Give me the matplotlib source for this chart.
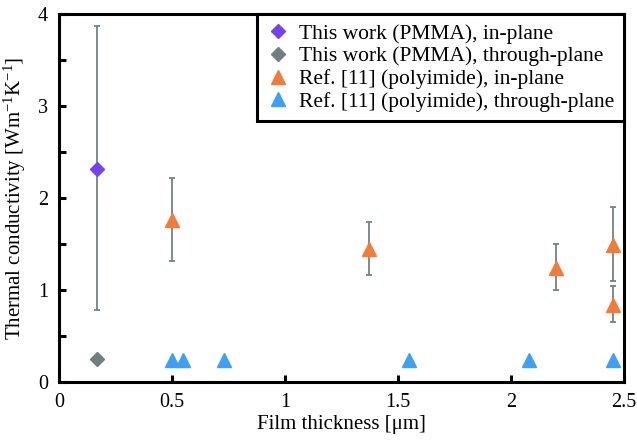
import matplotlib
matplotlib.use("Agg")
import matplotlib.pyplot as plt

plt.rcParams["font.family"] = ["Liberation Serif", "DejaVu Serif"]
plt.rcParams["mathtext.fontset"] = "custom"
plt.rcParams["mathtext.rm"] = "Liberation Serif"
plt.rcParams["mathtext.it"] = "Liberation Serif:italic"

# This work (PMMA)
pmma_x = [0.17]
pmma_in = [2.32]
pmma_in_lo = [0.78]
pmma_in_hi = [3.87]
pmma_through = [0.25]

# Ref. [11] (polyimide)
pi_in_x = [0.50, 1.37, 2.20, 2.45, 2.45]
pi_in = [1.76, 1.45, 1.24, 1.49, 0.84]
pi_in_lo = [1.32, 1.16, 1.00, 1.10, 0.65]
pi_in_hi = [2.22, 1.74, 1.50, 1.90, 1.04]
pi_through_x = [0.50, 0.55, 0.73, 1.55, 2.08, 2.45]
pi_through = [0.24, 0.24, 0.24, 0.24, 0.24, 0.24]

ERR_COLOR = "#6f8485"

fig = plt.figure(figsize=(6.37, 4.40), dpi=100)
ax = fig.add_axes([0.0926, 0.132, 0.887, 0.836])

# error bars behind markers
ax.errorbar(pmma_x, pmma_in,
            yerr=[[v - lo for v, lo in zip(pmma_in, pmma_in_lo)],
                  [hi - v for v, hi in zip(pmma_in, pmma_in_hi)]],
            fmt="none", ecolor=ERR_COLOR, elinewidth=1.3, capsize=2.5, capthick=1.3, zorder=1)
ax.errorbar(pi_in_x, pi_in,
            yerr=[[v - lo for v, lo in zip(pi_in, pi_in_lo)],
                  [hi - v for v, hi in zip(pi_in, pi_in_hi)]],
            fmt="none", ecolor=ERR_COLOR, elinewidth=1.3, capsize=2.5, capthick=1.3, zorder=1)

ax.plot(pmma_x, pmma_in, "D", color="#7443f0", markersize=7.2, linestyle="none",
        label="This work (PMMA), in-plane", zorder=3)
ax.plot(pmma_x, pmma_through, "D", color="#6e7f80", markersize=7.2, linestyle="none",
        label="This work (PMMA), through-plane", zorder=3)
ax.plot(pi_in_x, pi_in, "^", color="#f07c3a", markersize=10, linestyle="none",
        label="Ref. [11] (polyimide), in-plane", zorder=3)
ax.plot(pi_through_x, pi_through, "^", color="#3ea0f5", markersize=10, linestyle="none",
        label="Ref. [11] (polyimide), through-plane", zorder=3)

ax.set_xlim(0, 2.5)
ax.set_ylim(0, 4)
ax.set_xticks([0, 0.5, 1, 1.5, 2, 2.5])
ax.set_xticklabels(["0", "0.5", "1", "1.5", "2", "2.5"])
ax.set_yticks([0, 0.5, 1, 1.5, 2, 2.5, 3, 3.5, 4])
ax.set_yticklabels(["0", "", "1", "", "2", "", "3", "", "4"])
ax.tick_params(direction="in", length=5, width=2.2, labelsize=14.5, pad=8)

for s in ax.spines.values():
    s.set_linewidth(2.2)

ax.set_xlabel("Film thickness [\u03bcm]", fontsize=15, labelpad=2)
ax.set_ylabel(r"Thermal conductivity [Wm$^{-1}$K$^{-1}$]", fontsize=15, labelpad=7)

leg = ax.legend(loc="upper right", borderaxespad=0, fontsize=15.5, fancybox=False,
                framealpha=1, edgecolor="black", handletextpad=0.5, handlelength=1.0,
                borderpad=0.45, labelspacing=0.12)
leg.get_frame().set_linewidth(2.2)

fig.savefig("out.png", dpi=100)
